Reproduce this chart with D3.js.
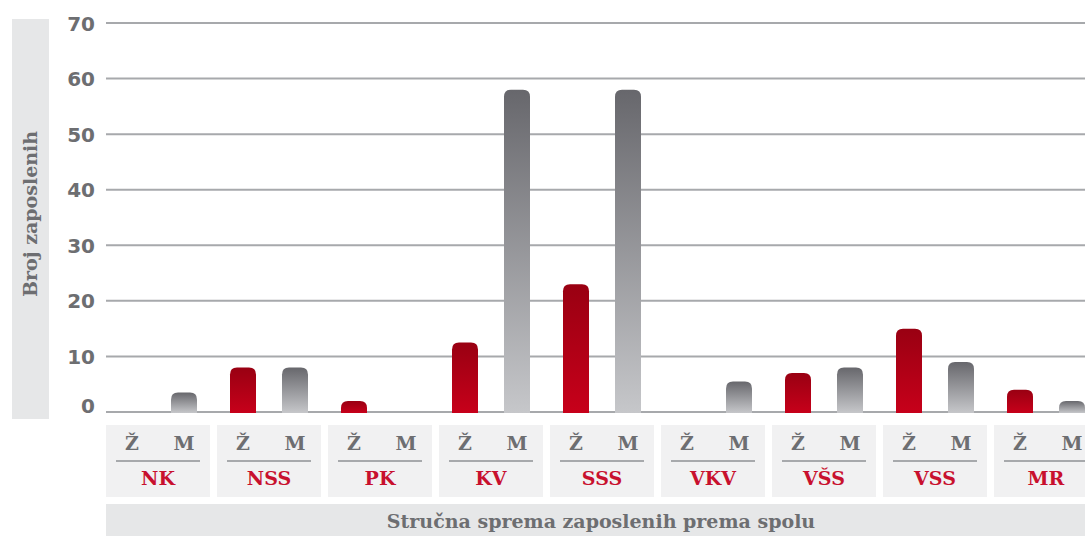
<!DOCTYPE html>
<html>
<head>
<meta charset="utf-8">
<script src="https://cdnjs.cloudflare.com/ajax/libs/d3/7.8.5/d3.min.js"></script>
<style>
  body { margin: 0; background: #fff; }
  svg { display: block; }
  .slab { font-family: "DejaVu Serif", serif; font-weight: bold; }
  .tick text { font-family: "DejaVu Sans", sans-serif; font-weight: bold; }
</style>
</head>
<body>
<svg id="chart" width="1085" height="536"></svg>
<script>
// qualification levels and counts (Ž = women, M = men)
var categories = ["NK", "NSS", "PK", "KV", "SSS", "VKV", "VŠS", "VSS", "MR"];
var genders = ["Ž", "M"];
var women = [0, 8, 2, 12.5, 23, 0, 7, 15, 4];
var men = [3.5, 8, 0, 58, 58, 5.5, 8, 9, 2];
var yTicks = [0, 10, 20, 30, 40, 50, 60, 70];
var yLabel = "Broj zaposlenih";
var xLabel = "Stručna sprema zaposlenih prema spolu";

var gray = "#6d6e71";
var red = "#c8102e";
var gridColor = "#a7a9ac";

var svg = d3.select("#chart");
var width = 1085;
var plot = { left: 106, top: 23, bottom: 412 };

var data = categories.map(function(c, i) {
    return { cat: c, values: [
        { g: "Ž", v: women[i] },
        { g: "M", v: men[i] }
    ] };
});

var xScale = d3.scaleBand()
    .domain(categories)
    .range([plot.left, plot.left + 111 * (categories.length - 7 / 111)])
    .paddingInner(7 / 111)
    .paddingOuter(0);
var xSub = d3.scaleBand()
    .domain(genders)
    .range([0, xScale.bandwidth()])
    .paddingInner(0.5)
    .paddingOuter(0.25);
var yScale = d3.scaleLinear()
    .domain([0, 70])
    .range([plot.bottom, plot.top]);

// gradients
var defs = svg.append("defs");
function grad(id, top, bottom) {
    var g = defs.append("linearGradient")
        .attr("id", id)
        .attr("x1", 0).attr("y1", 0).attr("x2", 0).attr("y2", 1);
    g.append("stop").attr("offset", "0%").attr("stop-color", top);
    g.append("stop").attr("offset", "100%").attr("stop-color", bottom);
}
grad("gradRed", "#990012", "#c7001a");
grad("gradGray", "#67676c", "#c6c7ca");

// y label box
svg.append("rect")
    .attr("x", 12).attr("y", 19)
    .attr("width", 37).attr("height", 400)
    .attr("fill", "#e6e7e8");
svg.append("text")
    .attr("class", "slab")
    .attr("transform", "translate(37,214) rotate(-90)")
    .attr("text-anchor", "middle")
    .attr("font-size", 19)
    .attr("fill", gray)
    .text(yLabel);

// gridlines
svg.append("g")
    .selectAll("line")
    .data(yTicks)
    .join("line")
    .attr("x1", plot.left)
    .attr("x2", width)
    .attr("y1", d => yScale(d))
    .attr("y2", d => yScale(d))
    .attr("stroke", gridColor)
    .attr("stroke-width", 2);

// y axis
var yAxis = d3.axisLeft(yScale)
    .tickValues(yTicks)
    .tickSize(0)
    .tickPadding(11);
var yG = svg.append("g")
    .attr("transform", "translate(" + [plot.left, 0] + ")")
    .call(yAxis);
yG.select(".domain").remove();
yG.selectAll("text")
    .attr("font-size", 20)
    .attr("fill", gray)
    .attr("dy", d => d == 0 ? "0" : "0.35em");

// bars
function barPath(x, y, w, h, r) {
    r = Math.min(r, h, w / 2);
    return "M" + x + "," + (y + h) +
        "V" + (y + r) +
        "Q" + x + "," + y + " " + (x + r) + "," + y +
        "H" + (x + w - r) +
        "Q" + (x + w) + "," + y + " " + (x + w) + "," + (y + r) +
        "V" + (y + h) + "Z";
}
var groups = svg.append("g")
    .selectAll("g")
    .data(data)
    .join("g")
    .attr("transform", d => "translate(" + xScale(d.cat) + ",0)");

groups.selectAll("path")
    .data(d => d.values.filter(v => v.v > 0))
    .join("path")
    .attr("fill", d => d.g == "Ž" ? "url(#gradRed)" : "url(#gradGray)")
    .attr("d", d => barPath(xSub(d.g), yScale(d.v), xSub.bandwidth(),
        yScale(0) - yScale(d.v) + 1, 7));

// category boxes
var boxes = svg.append("g")
    .selectAll("g")
    .data(categories)
    .join("g")
    .attr("transform", d => "translate(" + xScale(d) + ",425)");
boxes.append("rect")
    .attr("width", xScale.bandwidth())
    .attr("height", 72)
    .attr("fill", "#f1f1f2");
boxes.selectAll(".gender")
    .data(genders)
    .join("text")
    .attr("class", "slab gender")
    .attr("x", d => xSub(d) + xSub.bandwidth() / 2)
    .attr("y", 25)
    .attr("text-anchor", "middle")
    .attr("font-size", 19)
    .attr("fill", gray)
    .text(d => d);
boxes.append("line")
    .attr("x1", 10)
    .attr("x2", xScale.bandwidth() - 10)
    .attr("y1", 36)
    .attr("y2", 36)
    .attr("stroke", gridColor)
    .attr("stroke-width", 2);
boxes.append("text")
    .attr("class", "slab")
    .attr("x", xScale.bandwidth() / 2)
    .attr("y", 60)
    .attr("text-anchor", "middle")
    .attr("font-size", 19)
    .attr("fill", red)
    .text(d => d);

// x label box
svg.append("rect")
    .attr("x", plot.left).attr("y", 504)
    .attr("width", width - plot.left).attr("height", 32)
    .attr("fill", "#e6e7e8");
svg.append("text")
    .attr("class", "slab")
    .attr("x", 601)
    .attr("y", 528)
    .attr("text-anchor", "middle")
    .attr("font-size", 19)
    .attr("fill", gray)
    .text(xLabel);
</script>
</body>
</html>
